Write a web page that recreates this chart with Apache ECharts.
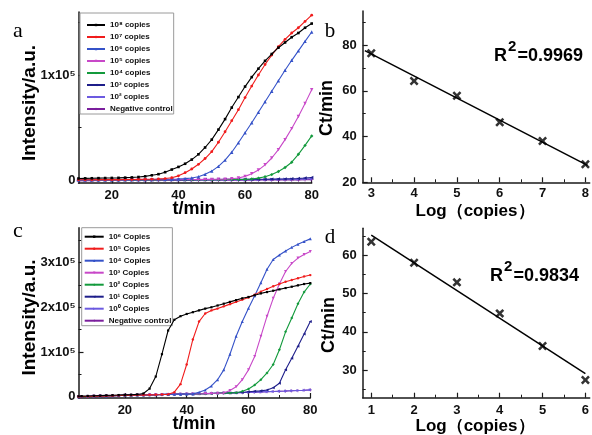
<!DOCTYPE html>
<html><head><meta charset="utf-8">
<script src="https://cdn.jsdelivr.net/npm/echarts@6/dist/echarts.min.js"></script>
<style>html,body{margin:0;padding:0;background:#fff}#c{width:592px;height:435px}</style>
</head><body><div id="c"></div>
<script>
// ---------- Panel a : amplification curves (intensity in units of 1e5) ----------
const timeA = [10,12,14,16,18,20,22,24,26,28,30,32,34,36,38,40,42,44,46,48,50,52,54,56,58,60,62,64,66,68,70,72,74,76,78,80];
const a_1e8 = [0.015,0.016,0.017,0.018,0.019,0.02,0.021,0.023,0.025,0.029,0.035,0.045,0.056,0.075,0.1,0.125,0.155,0.195,0.245,0.31,0.385,0.48,0.58,0.69,0.79,0.89,0.98,1.06,1.135,1.2,1.26,1.31,1.36,1.40,1.45,1.49];
const a_1e7 = [0.003,0.003,0.003,0.004,0.004,0.004,0.004,0.005,0.005,0.006,0.007,0.008,0.01,0.014,0.022,0.04,0.07,0.105,0.15,0.205,0.27,0.36,0.46,0.565,0.67,0.785,0.895,1.0,1.1,1.19,1.27,1.34,1.4,1.45,1.51,1.57];
const a_1e6 = [0.002,0.002,0.002,0.003,0.003,0.003,0.003,0.004,0.004,0.004,0.005,0.005,0.006,0.007,0.008,0.01,0.014,0.02,0.032,0.055,0.085,0.13,0.19,0.265,0.355,0.45,0.545,0.645,0.745,0.845,0.945,1.045,1.14,1.23,1.32,1.41];
const a_1e5 = [0.001,0.001,0.001,0.002,0.002,0.002,0.002,0.002,0.003,0.003,0.003,0.003,0.003,0.004,0.004,0.004,0.005,0.005,0.005,0.006,0.006,0.007,0.009,0.012,0.02,0.035,0.06,0.095,0.145,0.21,0.29,0.385,0.49,0.605,0.73,0.86];
const a_1e4 = [0.0,0.0,0.0,0.001,0.001,0.001,0.001,0.001,0.002,0.002,0.002,0.002,0.002,0.003,0.003,0.003,0.003,0.003,0.004,0.004,0.004,0.004,0.005,0.005,0.005,0.006,0.01,0.018,0.032,0.052,0.082,0.12,0.17,0.245,0.33,0.42];
const a_1e3 = [0.002,0.002,0.002,0.002,0.002,0.002,0.003,0.003,0.003,0.003,0.003,0.003,0.003,0.004,0.004,0.004,0.004,0.004,0.005,0.005,0.005,0.005,0.006,0.006,0.006,0.007,0.007,0.008,0.008,0.009,0.01,0.011,0.013,0.015,0.019,0.024];
const a_1e2 = [-0.002,-0.002,-0.002,-0.002,-0.001,-0.001,-0.001,-0.001,0.0,0.0,0.0,0.0,0.0,0.001,0.001,0.001,0.001,0.001,0.002,0.002,0.002,0.002,0.003,0.003,0.003,0.003,0.004,0.004,0.005,0.005,0.006,0.007,0.008,0.009,0.011,0.013];
const a_neg = [-0.006,-0.006,-0.006,-0.005,-0.005,-0.005,-0.005,-0.005,-0.004,-0.004,-0.004,-0.004,-0.004,-0.003,-0.003,-0.003,-0.003,-0.003,-0.002,-0.002,-0.002,-0.002,-0.002,-0.001,-0.001,-0.001,-0.001,0.0,0.0,0.0,0.001,0.001,0.002,0.002,0.003,0.004];
const namesA = ['10⁸ copies','10⁷ copies','10⁶ copies','10⁵ copies','10⁴ copies','10³ copies','10² copies','Negative control'];

// ---------- Panel b : standard curve ----------
const logCopiesB = [3,4,5,6,7,8];
const ctB = [76.5,64.3,57.9,46.3,38.1,27.9];
const fitBx = [2.85,8.05];
const fitBy = [77.6,27.4];
const r2B = '0.9969';

// ---------- Panel c : amplification curves (intensity in units of 1e5) ----------
const timeC = [5,6,8,10,12,14,16,18,20,22,24,26,28,30,32,34,36,38,40,42,44,46,48,50,52,54,56,58,60,62,64,66,68,70,72,74,76,78,80];
const c_1e6 = [0.010,0.012,0.016,0.020,0.024,0.028,0.032,0.036,0.040,0.044,0.050,0.070,0.180,0.450,0.950,1.480,1.720,1.800,1.850,1.890,1.930,1.970,2.000,2.040,2.080,2.120,2.160,2.200,2.230,2.270,2.310,2.340,2.370,2.400,2.430,2.460,2.490,2.520,2.540];
const c_1e5 = [0.000,0.002,0.005,0.010,0.013,0.017,0.021,0.025,0.029,0.032,0.035,0.038,0.041,0.044,0.047,0.052,0.10,0.28,0.72,1.28,1.68,1.86,1.93,1.97,2.02,2.07,2.12,2.17,2.22,2.28,2.35,2.41,2.47,2.52,2.57,2.61,2.65,2.69,2.72];
const c_1e4 = [0.000,0.002,0.005,0.010,0.013,0.017,0.021,0.025,0.029,0.032,0.035,0.038,0.041,0.044,0.047,0.050,0.053,0.056,0.059,0.062,0.10,0.15,0.24,0.38,0.60,0.95,1.35,1.68,1.98,2.26,2.55,2.85,3.07,3.17,3.26,3.34,3.41,3.47,3.53];
const c_1e3 = [0.000,0.002,0.005,0.010,0.013,0.017,0.021,0.025,0.029,0.032,0.035,0.038,0.041,0.044,0.047,0.050,0.053,0.056,0.059,0.062,0.065,0.068,0.072,0.076,0.080,0.14,0.22,0.38,0.60,0.90,1.35,1.80,2.20,2.52,2.80,2.98,3.10,3.18,3.25];
const c_1e2 = [0.000,0.002,0.005,0.010,0.013,0.017,0.021,0.025,0.029,0.032,0.035,0.038,0.041,0.044,0.047,0.050,0.053,0.056,0.059,0.062,0.065,0.068,0.072,0.076,0.080,0.084,0.088,0.12,0.17,0.26,0.38,0.53,0.72,1.05,1.45,1.76,2.08,2.34,2.52];
const c_1e1 = [0.000,0.002,0.005,0.010,0.013,0.017,0.021,0.025,0.029,0.032,0.035,0.038,0.041,0.044,0.047,0.050,0.053,0.056,0.059,0.062,0.065,0.068,0.072,0.076,0.080,0.084,0.088,0.092,0.11,0.12,0.13,0.15,0.20,0.30,0.60,0.86,1.13,1.40,1.68];
const c_1e0 = [0.003,0.005,0.008,0.012,0.015,0.019,0.023,0.027,0.031,0.034,0.037,0.040,0.043,0.046,0.049,0.052,0.055,0.058,0.061,0.064,0.067,0.070,0.074,0.078,0.082,0.086,0.090,0.094,0.098,0.102,0.107,0.112,0.117,0.122,0.127,0.133,0.139,0.145,0.152];
const c_neg = [0.000,0.002,0.005,0.010,0.013,0.017,0.021,0.025,0.029,0.032,0.035,0.038,0.041,0.044,0.047,0.050,0.053,0.056,0.059,0.062,0.065,0.068,0.072,0.076,0.080,0.084,0.088,0.092,0.096,0.100,0.105,0.110,0.115,0.120,0.125,0.131,0.137,0.143,0.150];
const namesC = ['10⁶ Copies','10⁵ Copies','10⁴ Copies','10³ Copies','10² Copies','10¹ Copies','10⁰ Copies','Negative control'];

// ---------- Panel d : standard curve ----------
const logCopiesD = [1,2,3,4,5,6];
const ctD = [63.5,58.0,52.9,44.8,36.3,27.4];
const fitDx = [1,6];
const fitDy = [65.2,29.1];
const r2D = '0.9834';

// ---------- tick values ----------
const ticksA_x = [20,40,60,80], minorA_x = [30,50,70];
const ticksA_y = [0,1], minorA_y = [0.5,1.5];
const ticksB_x = [3,4,5,6,7,8], minorB_x = [3.5,4.5,5.5,6.5,7.5];
const ticksB_y = [20,40,60,80], minorB_y = [30,50,70,90];
const ticksC_x = [20,40,60,80], minorC_x = [10,30,50,70];
const ticksC_y = [0,1,2,3], minorC_y = [0.5,1.5,2.5,3.5];
const ticksD_x = [1,2,3,4,5,6], minorD_x = [1.5,2.5,3.5,4.5,5.5];
const ticksD_y = [30,40,50,60], minorD_y = [25,35,45,55,65];

// ---------- styling ----------
const SANS = "'Liberation Sans', Arial, Helvetica, sans-serif";
const SERIF = "'Liberation Serif', 'Times New Roman', serif";
const AX = '#1a1a1a';
const colors = ['#000000','#f01c1c','#3552c8','#c848c8','#139a3c','#1e1e8a','#6c5ae0','#7b1f9d'];
const symbols = ['rect','circle','triangle','triangle','diamond','triangle','triangle','path://M4,0H6V4H10V6H6V10H4V6H0V4H4Z'];
const symRot = [0,0,0,180,0,90,-90,0];
const symSize = [2.6,2.8,3.4,3.4,3.4,3.4,3.4,3.6];
const crossSym = 'path://M0,2L2,0L5,3L8,0L10,2L7,5L10,8L8,10L5,7L2,10L0,8L3,5Z';

const intensityFmt = v => (v === 0 ? '0' : v + 'x10⁵');

function axisPair(isX, gridIndex, min, max, majors, minors, fmt, margin) {
  const pos = isX ? 'bottom' : 'left';
  const main = {
    type: 'value', gridIndex, min, max, position: pos,
    axisLine: { show: true, onZero: false, lineStyle: { color: AX, width: 1.5 } },
    axisTick: { show: true, inside: true, length: 5, customValues: majors, lineStyle: { color: AX, width: 1.2 } },
    axisLabel: { show: true, customValues: majors, formatter: fmt, margin, color: '#111',
      fontSize: 13, fontWeight: 'bold', fontFamily: SANS },
    splitLine: { show: false }, minorTick: { show: false }
  };
  const minor = {
    type: 'value', gridIndex, min, max, position: pos, offset: 0,
    axisLine: { show: false, onZero: false },
    axisTick: { show: true, inside: true, length: 3, customValues: minors, lineStyle: { color: AX, width: 1 } },
    axisLabel: { show: false }, splitLine: { show: false }
  };
  return [main, minor];
}

const xAxes = [].concat(
  axisPair(true, 0, 10, 80, ticksA_x, minorA_x, v => String(v), 6),
  axisPair(true, 1, 2.8, 8.1, ticksB_x, minorB_x, v => String(v), 5),
  axisPair(true, 2, 5, 80, ticksC_x, minorC_x, v => String(v), 6),
  axisPair(true, 3, 0.8, 6.1, ticksD_x, minorD_x, v => String(v), 6)
);
const yAxes = [].concat(
  axisPair(false, 0, -0.03, 1.6, ticksA_y, minorA_y, intensityFmt, 3),
  axisPair(false, 1, 20, 95, ticksB_y, minorB_y, v => String(v), 6),
  axisPair(false, 2, -0.03, 3.78, ticksC_y, minorC_y, intensityFmt, 3),
  axisPair(false, 3, 22.8, 67, ticksD_y, minorD_y, v => String(v), 6)
);

function zip(xs, ys) { return xs.map((x, i) => [x, ys[i]]); }

const series = [];
const seriesA = [a_1e8, a_1e7, a_1e6, a_1e5, a_1e4, a_1e3, a_1e2, a_neg];
seriesA.forEach((arr, i) => series.push({
  type: 'line', name: namesA[i], xAxisIndex: 0, yAxisIndex: 0, data: zip(timeA, arr),
  symbol: symbols[i], symbolRotate: symRot[i], symbolSize: symSize[i], showSymbol: true,
  itemStyle: { color: colors[i] }, lineStyle: { color: colors[i], width: 1.1 }, z: 10 - i, silent: true
}));
const seriesC = [c_1e6, c_1e5, c_1e4, c_1e3, c_1e2, c_1e1, c_1e0, c_neg];
seriesC.forEach((arr, i) => series.push({
  type: 'line', name: namesC[i], xAxisIndex: 4, yAxisIndex: 4, data: zip(timeC, arr),
  symbol: symbols[i], symbolRotate: symRot[i], symbolSize: symSize[i] - 0.4, showSymbol: true,
  itemStyle: { color: colors[i] }, lineStyle: { color: colors[i], width: 1.1 }, z: 10 - i, silent: true
}));
// fits
series.push({ type: 'line', xAxisIndex: 2, yAxisIndex: 2, data: zip(fitBx, fitBy), symbol: 'none',
  lineStyle: { color: '#000', width: 1.5 }, silent: true });
series.push({ type: 'scatter', xAxisIndex: 2, yAxisIndex: 2, data: zip(logCopiesB, ctB), symbol: crossSym,
  symbolSize: 9, itemStyle: { color: '#000' }, silent: true, z: 5 });
series.push({ type: 'line', xAxisIndex: 6, yAxisIndex: 6, data: zip(fitDx, fitDy), symbol: 'none',
  lineStyle: { color: '#000', width: 1.5 }, silent: true });
series.push({ type: 'scatter', xAxisIndex: 6, yAxisIndex: 6, data: zip(logCopiesD, ctD), symbol: crossSym,
  symbolSize: 9, itemStyle: { color: '#000' }, silent: true, z: 5 });

const legendCommon = {
  orient: 'vertical', itemWidth: 18, itemHeight: 3, itemGap: 4,
  backgroundColor: '#fff', borderColor: '#9a9a9a', borderWidth: 1, borderRadius: 0,
  textStyle: { fontSize: 8, fontWeight: 'bold', fontFamily: SANS, color: '#111', lineHeight: 8 },
  selectedMode: false, inactiveColor: '#111'
};

function txt(text, x, y, o) {
  o = o || {};
  return { type: 'text', x, y, rotation: o.rot || 0, silent: true, z: 100,
    style: { text, fill: '#000', fontSize: o.size || 18, fontWeight: o.weight || 'bold',
      fontFamily: o.family || SANS, align: o.align || 'center', verticalAlign: 'middle' } };
}

const graphics = [
  txt('a', 18, 31, { size: 22, weight: 'normal', family: SERIF }),
  txt('b', 330, 31, { size: 21, weight: 'normal', family: SERIF }),
  txt('c', 18, 231, { size: 22, weight: 'normal', family: SERIF }),
  txt('d', 330, 237, { size: 21, weight: 'normal', family: SERIF }),
  txt('Intensity/a.u.', 29.5, 103, { rot: Math.PI / 2, size: 19 }),
  txt('t/min', 194, 209),
  txt('Ct/min', 327, 108, { rot: Math.PI / 2 }),
  txt('Log（copies）', 475, 211, { size: 17 }),
  txt('Intensity/a.u.', 29.5, 317.5, { rot: Math.PI / 2, size: 19 }),
  txt('t/min', 194, 424),
  txt('Ct/min', 329, 325, { rot: Math.PI / 2 }),
  txt('Log（copies）', 475, 426, { size: 17 }),
  txt('R', 494, 56, { align: 'left' }),
  txt('2', 508, 46.5, { align: 'left', size: 15 }),
  txt('=' + r2B, 517.5, 56, { align: 'left' }),
  txt('R', 490, 276, { align: 'left' }),
  txt('2', 504, 266.5, { align: 'left', size: 15 }),
  txt('=' + r2D, 513.5, 276, { align: 'left' })
];

const option = {
  animation: false,
  backgroundColor: '#fff',
  grid: [
    { left: 78.5, top: 12, width: 233.2, height: 171.2 },
    { left: 362.7, top: 10.9, width: 229, height: 171.4 },
    { left: 78.5, top: 227.7, width: 231.8, height: 170.3 },
    { left: 362.7, top: 228.3, width: 229, height: 169.4 }
  ],
  xAxis: xAxes,
  yAxis: yAxes,
  legend: [
    Object.assign({}, legendCommon, { data: namesA, left: 80, top: 13, padding: [8, 1, 1, 6] }),
    Object.assign({}, legendCommon, { data: namesC, left: 81.7, top: 227.7, padding: [5, 1, 1, 2], itemWidth: 19 })
  ],
  graphic: graphics,
  series
};

const chart = echarts.init(document.getElementById('c'), null, { renderer: 'canvas', width: 592, height: 435 });
chart.setOption(option);
</script>
</body></html>
